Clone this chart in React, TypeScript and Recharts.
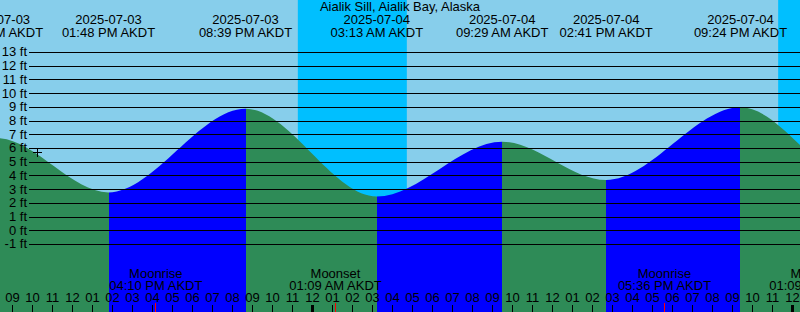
import React from 'react';
import { ComposedChart, Area, XAxis, YAxis, ReferenceLine, ReferenceArea, ReferenceDot } from 'recharts';

// ---------- data ----------
const stationName = 'Aialik Sill, Aialik Bay, Alaska';
const tzName = 'AKDT';

const tideDates = ['2025-07-03', '2025-07-03', '2025-07-03', '2025-07-03', '2025-07-04', '2025-07-04', '2025-07-04', '2025-07-04', '2025-07-05', '2025-07-05'];
const tideTimes = ['02:05 AM', '08:13 AM', '01:48 PM', '08:39 PM', '03:13 AM', '09:29 AM', '02:41 PM', '09:24 PM', '03:50 AM', '10:10 AM'];
const tideHeights = [1.2, 6.75, 2.8, 8.9, 2.5, 6.5, 3.7, 9.0, 2.8, 6.3];

const moonEvents = ['Moonrise', 'Moonset', 'Moonrise', 'Moonset'];
const moonDates = ['2025-07-03', '2025-07-04', '2025-07-04', '2025-07-05'];
const moonTimes = ['04:10 PM', '01:09 AM', '05:36 PM', '01:09 AM'];

const sunsetDates = ['2025-07-03', '2025-07-04'];
const sunsetTimes = ['11:16 PM', '11:17 PM'];
const sunriseDates = ['2025-07-04', '2025-07-05'];
const sunriseTimes = ['04:43 AM', '04:45 AM'];

const nowDate = '2025-07-03';
const nowTime = '10:14 AM';
const nowHeight = 5.69;

const heightTicks = [-1, 0, 1, 2, 3, 4, 5, 6, 7, 8, 9, 10, 11, 12, 13];
const hourTicks = [9, 10, 11, 12, 13, 14, 15, 16, 17, 18, 19, 20, 21, 22, 23, 24, 25, 26, 27, 28, 29, 30, 31, 32, 33, 34, 35, 36, 37, 38, 39, 40, 41, 42, 43, 44, 45, 46, 47, 48];

// visible window: hours from 2025-07-03 00:00
const viewStart = 8.375;
const viewEnd = 48.375;

// ---------- layout / style ----------
const W = 800;
const H = 312;
const yDomain: [number, number] = [-5.922, 16.828];
const DAY = '#87CEEB';
const NIGHT = '#00BFFF';
const FALL = '#2E8B57';
const RISE = '#0000FF';
const FONT = '"Liberation Sans", Arial, Helvetica, sans-serif';
const FS = 13;

function toHours(date: string, time: string): number {
  const day = parseInt(date.slice(8, 10), 10) - 3;
  const [hm, ap] = time.split(' ');
  const [hh, mm] = hm.split(':').map((s) => parseInt(s, 10));
  const h = (hh % 12) + (ap === 'PM' ? 12 : 0);
  return day * 24 + h + mm / 60;
}

const tideT = tideTimes.map((t, i) => toHours(tideDates[i], t));
const tideData = tideT.map((t, i) => ({ t, h: tideHeights[i] }));
const moonT = moonTimes.map((t, i) => toHours(moonDates[i], t));
const sunsetT = sunsetTimes.map((t, i) => toHours(sunsetDates[i], t));
const sunriseT = sunriseTimes.map((t, i) => toHours(sunriseDates[i], t));
const nowT = toHours(nowDate, nowTime);

const t0 = tideT[0];
const span = tideT[tideT.length - 1] - t0;
const stops: { o: number; c: string }[] = [];
for (let i = 0; i < tideT.length - 1; i++) {
  const c = tideHeights[i + 1] > tideHeights[i] ? RISE : FALL;
  stops.push({ o: (tideT[i] - t0) / span, c });
  stops.push({ o: (tideT[i + 1] - t0) / span, c });
}

const textStyle = { fontFamily: FONT, fontSize: FS, fill: '#000' } as const;

const HourTick = (props: any) => {
  const { x, payload } = props;
  const v: number = payload.value;
  const h12 = v % 12 === 0 ? 12 : v % 12;
  const label = String(h12).padStart(2, '0');
  const midnight = v % 24 === 0;
  return (
    <g>
      <line x1={x} x2={x} y1={H - 7.5} y2={H} stroke="#000" strokeWidth={midnight ? 3 : 1} shapeRendering="crispEdges" />
      <text x={x} y={H - 10} textAnchor="middle" style={textStyle}>{label}</text>
    </g>
  );
};

const GridShape = (v: number) => (p: any) => (
  <g>
    <line x1={p.x1 + 29} x2={p.x2} y1={p.y1} y2={p.y2} stroke="#000" strokeWidth={1} shapeRendering="crispEdges" />
    <text x={p.x1 + 27} y={p.y1 + 4} textAnchor="end" style={textStyle}>{`${v} ft`}</text>
  </g>
);

const TideLabel = (date: string, time: string) => (p: any) => (
  <g>
    <text x={p.x1} y={24} textAnchor="middle" style={textStyle}>{date}</text>
    <text x={p.x1} y={36.5} textAnchor="middle" style={textStyle}>{`${time} ${tzName}`}</text>
  </g>
);

const MoonLabel = (name: string, time: string) => (p: any) => (
  <g>
    <line x1={p.x1} x2={p.x1} y1={H - 9} y2={H} stroke="#FF0000" strokeWidth={1} shapeRendering="crispEdges" />
    <text x={p.x1} y={278} textAnchor="middle" style={textStyle}>{name}</text>
    <text x={p.x1} y={290.3} textAnchor="middle" style={textStyle}>{`${time} ${tzName}`}</text>
  </g>
);

const PlusShape = (p: any) => (
  <g>
    <line x1={p.cx - 4.5} x2={p.cx + 4.5} y1={p.cy} y2={p.cy} stroke="#000" strokeWidth={1} shapeRendering="crispEdges" />
    <line x1={p.cx} x2={p.cx} y1={p.cy - 4.5} y2={p.cy + 4.5} stroke="#000" strokeWidth={1} shapeRendering="crispEdges" />
  </g>
);

export default function App() {
  return (
    <div style={{ position: 'absolute', left: 0, top: 0, width: W, height: H, background: DAY, overflow: 'hidden' }}>
      <ComposedChart width={W} height={H} data={tideData} margin={{ top: 0, right: 0, bottom: 0, left: 0 }}>
        <defs>
          <linearGradient id="tideFill" x1="0" y1="0" x2="1" y2="0">
            {stops.map((s, i) => (
              <stop key={i} offset={s.o} stopColor={s.c} />
            ))}
          </linearGradient>
        </defs>
        <XAxis
          dataKey="t"
          type="number"
          domain={[viewStart, viewEnd]}
          allowDataOverflow
          ticks={hourTicks}
          interval={0}
          mirror
          orientation="bottom"
          axisLine={false}
          tickLine={false}
          tick={HourTick}
        />
        <YAxis hide type="number" domain={yDomain} allowDataOverflow />
        {sunsetT.map((s, i) => (
          <ReferenceArea key={`n${i}`} x1={s} x2={sunriseT[i]} ifOverflow="hidden" fill={NIGHT} fillOpacity={1} stroke="none" />
        ))}
        <Area
          type="monotone"
          dataKey="h"
          baseValue="dataMin"
          stroke="none"
          fill="url(#tideFill)"
          fillOpacity={1}
          dot={false}
          activeDot={false}
          isAnimationActive={false}
        />
        {heightTicks.map((v) => (
          <ReferenceLine key={`g${v}`} y={v} stroke="#000" shape={GridShape(v)} />
        ))}
        {tideT.map((t, i) => (
          <ReferenceLine key={`e${i}`} x={t} ifOverflow="visible" stroke="none" shape={TideLabel(tideDates[i], tideTimes[i])} />
        ))}
        {moonT.map((t, i) => (
          <ReferenceLine key={`m${i}`} x={t} ifOverflow="visible" stroke="none" shape={MoonLabel(moonEvents[i], moonTimes[i])} />
        ))}
        <ReferenceDot x={nowT} y={nowHeight} ifOverflow="visible" shape={PlusShape} />
      </ComposedChart>
      <svg width={W} height={20} style={{ position: 'absolute', left: 0, top: 0, pointerEvents: 'none' }}>
        <text x={W / 2} y={10.7} textAnchor="middle" style={textStyle}>{stationName}</text>
      </svg>
    </div>
  );
}
